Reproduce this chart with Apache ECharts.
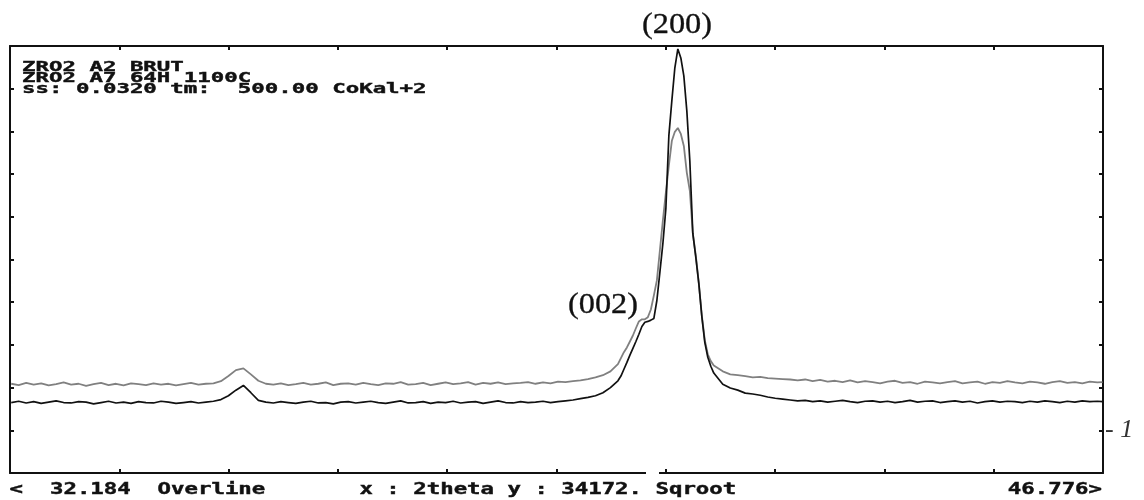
<!DOCTYPE html>
<html>
<head>
<meta charset="utf-8">
<script src="https://cdn.jsdelivr.net/npm/echarts@6/dist/echarts.min.js"></script>
<style>
html,body{margin:0;padding:0;background:#fff;}
#chart{width:1144px;height:500px;}
</style>
</head>
<body>
<div id="chart"></div>
<script>
// 2theta positions (degrees)
var twoTheta = [
32.2,32.3,32.4,32.5,32.6,32.7,32.8,32.9,
33.0,33.1,33.2,33.3,33.4,33.5,33.6,33.7,33.8,33.9,
34.0,34.1,34.2,34.3,34.4,34.5,34.6,34.7,34.8,34.9,
35.0,35.1,35.2,35.3,35.4,35.5,35.6,35.7,35.8,35.9,
36.0,36.1,36.2,36.3,36.4,36.5,36.6,36.7,36.8,36.9,
37.0,37.1,37.2,37.3,37.4,37.5,37.6,37.7,37.8,37.9,
38.0,38.1,38.2,38.3,38.4,38.5,38.6,38.7,38.8,38.9,
39.0,39.1,39.2,39.3,39.4,39.5,39.6,39.7,39.8,39.9,
40.0,40.1,40.2,40.3,
40.34,40.38,40.42,40.46,40.50,40.54,40.58,40.62,40.66,40.70,40.74,40.78,
40.82,40.86,40.90,40.94,40.98,41.02,41.06,41.10,41.14,41.18,41.22,41.26,
41.30,41.34,41.38,41.42,41.46,41.50,41.54,41.58,
41.7,41.8,41.9,42.0,42.1,42.2,42.3,42.4,42.5,42.6,
42.7,42.8,42.9,43.0,43.1,43.2,43.3,43.4,43.5,43.6,
43.7,43.8,43.9,44.0,44.1,44.2,44.3,44.4,44.5,44.6,
44.7,44.8,44.9,45.0,45.1,45.2,45.3,45.4,45.5,45.6,
45.7,45.8,45.9,46.0,46.1,46.2,46.3,46.4,46.5,46.6,46.7,
46.77
];
// intensity on the sqrt display scale (0-100 % of full scale), black trace
var blackTrace = [
16.5,16.8,16.4,16.7,16.3,16.6,16.9,16.5,
16.4,16.7,16.6,16.2,16.5,16.8,16.4,16.6,16.3,16.7,
16.5,16.4,16.8,16.6,16.3,16.5,16.7,16.4,16.6,16.8,
17.2,18.1,19.4,20.5,18.8,17.0,16.6,16.4,16.7,16.5,
16.3,16.6,16.8,16.4,16.5,16.2,16.6,16.7,16.4,16.6,
16.8,16.5,16.3,16.6,16.9,16.4,16.5,16.7,16.3,16.6,
16.5,16.8,16.4,16.6,16.7,16.3,16.6,16.9,16.5,16.4,
16.7,16.5,16.6,16.8,16.5,16.7,16.9,17.1,17.4,17.7,
18.1,18.8,20.0,21.6,
22.7,24.3,25.9,27.6,29.2,30.8,32.5,34.3,35.3,35.5,35.8,36.2,
40.4,47.0,53.7,61.9,79.0,87.2,94.9,99.3,97.2,93.0,84.8,73.1,
56.1,50.5,44.4,36.7,30.6,27.1,25.0,23.4,
20.8,19.9,19.4,18.7,18.5,18.2,17.8,17.5,17.3,17.1,
16.9,17.0,16.7,16.9,16.6,16.8,17.0,16.7,16.5,16.8,
16.9,16.6,16.8,16.5,16.7,17.0,16.6,16.8,16.9,16.5,
16.7,16.9,16.6,16.8,16.4,16.7,16.9,16.6,16.8,16.7,
16.5,16.8,16.6,16.9,16.7,16.5,16.8,16.6,16.9,16.7,16.8,
16.7
];
// grey trace
var greyTrace = [
20.9,20.6,21.1,20.7,21.0,20.5,20.8,21.2,
20.7,20.9,20.4,20.8,21.1,20.6,20.9,20.5,21.0,20.8,
20.6,21.0,20.7,20.9,20.5,20.8,21.1,20.7,20.9,21.0,
21.5,22.7,24.1,24.5,23.1,21.6,20.9,20.7,21.0,20.6,
20.8,21.1,20.7,20.9,21.2,20.6,20.9,21.0,20.7,21.1,
20.8,20.6,21.0,20.9,21.3,20.7,20.8,21.1,20.6,20.9,
21.2,20.8,21.0,21.3,20.7,21.1,20.9,21.2,20.8,21.0,
21.1,21.3,20.9,21.2,21.0,21.4,21.3,21.5,21.7,22.0,
22.4,22.9,23.8,25.5,
26.9,28.3,29.4,30.8,32.2,33.9,35.5,36.0,36.0,36.5,38.3,41.6,
45.1,52.1,59.1,65.7,72.0,77.8,79.9,80.8,79.4,76.6,70.3,66.1,
56.1,50.9,44.4,36.9,31.1,27.8,26.2,25.2,
23.8,23.1,22.9,22.7,22.4,22.5,22.2,22.1,22.0,21.9,
21.7,21.9,21.5,21.8,21.4,21.6,21.3,21.7,21.2,21.5,
21.3,21.0,21.4,21.6,21.1,21.3,20.9,21.4,21.2,21.0,
21.3,21.5,21.0,21.2,21.4,20.9,21.3,21.1,21.5,21.2,
21.0,21.4,21.2,20.9,21.3,21.5,21.1,21.3,21.0,21.4,21.2,
21.3
];
var xMin = 32.184, xMax = 46.776;
var xTickValues = [32.184,33.643,35.102,36.562,38.021,39.480,40.939,42.398,43.858,45.317,46.776];
var headerLines = ['ZRO2 A2 BRUT','ZRO2 A7 64H 1100C','ss: 0.0320 tm:  500.00 CoKal+2'];
var footerLeft = '<  32.184  Overline       x : 2theta y : 34172. Sqroot';
var footerRight = '46.776>';
var peakLabels = ['(200)','(002)'];

function pairs(ys){ return twoTheta.map(function(x,i){ return [x, ys[i]]; }); }

var headFont = 'bold 14px "DejaVu Sans Mono"';
var footFont = 'bold 15px "DejaVu Sans Mono"';
var frame = {color:'#111', width:2};
function xAx(pos){
  return {type:'value', position:pos, min:xMin, max:xMax,
    axisLine:{show:true, onZero:false, lineStyle:frame},
    axisTick:{show:true, inside:true, length:4, customValues:xTickValues, lineStyle:{color:'#111', width:2}},
    axisLabel:{show:false}, splitLine:{show:false}};
}
function yAx(pos){
  return {type:'value', position:pos, min:0, max:100, interval:10,
    axisLine:{show:true, lineStyle:frame},
    axisTick:{show:true, inside:true, length:4, lineStyle:{color:'#111', width:2}},
    axisLabel:{show:false}, splitLine:{show:false}};
}
function txt(x, y, s, font, opts){
  opts = opts || {};
  return {type:'text', x:x, y:y, scaleX:opts.scaleX||1, scaleY:opts.scaleY||1, z:10,
    style:{text:s, font:font, fill:opts.fill||'#111',
      stroke:opts.stroke||null, lineWidth:opts.lineWidth||0,
      align:opts.align||'left', verticalAlign:'middle',
      textAlign:opts.align||'left', textVerticalAlign:'middle'}};
}

var chart = echarts.init(document.getElementById('chart'), null, {renderer:'canvas'});
chart.setOption({
  animation:false,
  backgroundColor:'#fff',
  grid:{left:10, right:41, top:46, bottom:27},
  xAxis:[xAx('bottom'), xAx('top')],
  yAxis:[yAx('left'), yAx('right')],
  series:[
    {name:headerLines[0], type:'line', data:pairs(greyTrace), showSymbol:false,
      lineStyle:{color:'#808080', width:1.8}, z:2},
    {name:headerLines[1], type:'line', data:pairs(blackTrace), showSymbol:false,
      lineStyle:{color:'#111', width:1.7}, z:3}
  ],
  graphic:[
    {type:'rect', shape:{x:646, y:470, width:13, height:6}, style:{fill:'#fff'}, z:20},
    txt(22, 67, headerLines[0], headFont, {scaleX:1.6, stroke:'#111', lineWidth:0.4}),
    txt(22, 78, headerLines[1], headFont, {scaleX:1.6, stroke:'#111', lineWidth:0.4}),
    txt(22, 89.5, headerLines[2], headFont, {scaleX:1.6, stroke:'#111', lineWidth:0.4}),
    txt(9.6, 490.5, footerLeft, footFont, {scaleX:1.49, stroke:'#111', lineWidth:0.4}),
    txt(1102, 490.5, footerRight, footFont, {scaleX:1.49, align:'right', stroke:'#111', lineWidth:0.4}),
    txt(677, 25, peakLabels[0], '30px "Liberation Serif"', {align:'center', scaleX:1.08, stroke:'#111', lineWidth:0.3}),
    txt(603, 305, peakLabels[1], '30px "Liberation Serif"', {align:'center', scaleX:1.08, stroke:'#111', lineWidth:0.3}),
    txt(1105, 430, '- 1', 'italic 26px "Liberation Serif"', {fill:'#333'})
  ]
});
</script>
</body>
</html>
